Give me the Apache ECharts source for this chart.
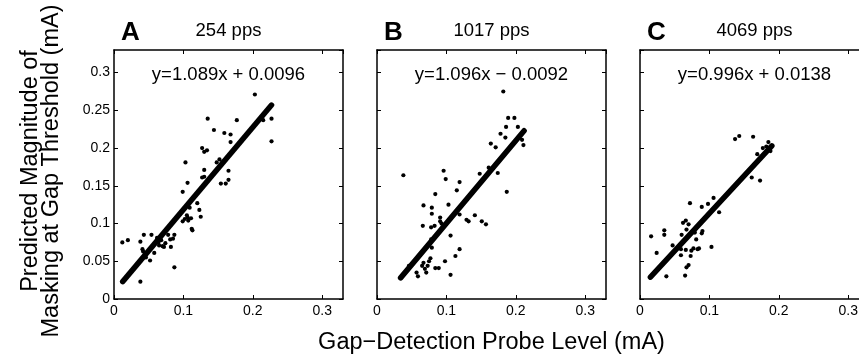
<!DOCTYPE html>
<html>
<head>
<meta charset="utf-8">
<script src="https://cdn.jsdelivr.net/npm/echarts@6/dist/echarts.min.js"></script>
<style>
html,body{margin:0;padding:0;background:#fff;}
#chart{width:859px;height:357px;}
</style>
</head>
<body>
<div id="chart"></div>
<script>
// ---- data ----
const panelLetters = ['A', 'B', 'C'];
const panelRates = ['254 pps', '1017 pps', '4069 pps'];
const equations = ['y=1.089x + 0.0096', 'y=1.096x \u2212 0.0092', 'y=0.996x + 0.0138'];
const xTickLabels = ['0', '0.1', '0.2', '0.3'];
const yTickLabels = ['0', '0.05', '0.1', '0.15', '0.2', '0.25', '0.3'];
const xAxisTitle = 'Gap\u2212Detection Probe Level (mA)';
const yAxisTitle1 = 'Predicted Magnitude of';
const yAxisTitle2 = 'Masking at Gap Threshold (mA)';

const aX = [0.012,0.020,0.038,0.043,0.041,0.042,0.046,0.052,0.054,0.058,0.062,0.064,0.065,0.068,0.070,0.072,0.074,0.078,0.081,0.082,0.085,0.087,0.087,0.038,0.099,0.103,0.106,0.099,0.102,0.105,0.106,0.107,0.109,0.111,0.112,0.113,0.120,0.123,0.125,0.127,0.130,0.127,0.130,0.134,0.130,0.135,0.144,0.148,0.152,0.156,0.159,0.154,0.159,0.161,0.165,0.165,0.168,0.168,0.177,0.203,0.215,0.227,0.227];
const aY = [0.075,0.078,0.076,0.085,0.066,0.063,0.055,0.051,0.085,0.061,0.081,0.075,0.071,0.078,0.070,0.069,0.074,0.085,0.079,0.069,0.080,0.085,0.042,0.023,0.142,0.181,0.154,0.103,0.106,0.111,0.108,0.104,0.121,0.107,0.093,0.091,0.127,0.118,0.109,0.161,0.162,0.200,0.195,0.197,0.171,0.239,0.224,0.181,0.185,0.181,0.183,0.153,0.220,0.153,0.158,0.170,0.218,0.208,0.237,0.271,0.237,0.239,0.209];

const bX = [0.038,0.096,0.099,0.119,0.115,0.084,0.103,0.067,0.079,0.079,0.066,0.078,0.083,0.091,0.091,0.093,0.119,0.129,0.132,0.141,0.151,0.157,0.148,0.161,0.174,0.164,0.171,0.187,0.178,0.186,0.189,0.198,0.203,0.185,0.182,0.209,0.211,0.106,0.079,0.119,0.113,0.106,0.077,0.075,0.067,0.065,0.069,0.071,0.057,0.059,0.084,0.089,0.098,0.046,0.073,0.078];
const bY = [0.164,0.170,0.159,0.155,0.144,0.139,0.125,0.124,0.121,0.113,0.097,0.095,0.097,0.108,0.103,0.100,0.112,0.105,0.103,0.111,0.103,0.099,0.166,0.174,0.167,0.206,0.201,0.142,0.219,0.228,0.240,0.240,0.228,0.214,0.275,0.211,0.204,0.084,0.068,0.066,0.057,0.032,0.054,0.050,0.048,0.044,0.040,0.035,0.035,0.030,0.041,0.041,0.050,0.044,0.044,0.079];

const cX = [0.016,0.024,0.035,0.035,0.038,0.047,0.059,0.059,0.060,0.062,0.066,0.070,0.067,0.072,0.065,0.067,0.070,0.066,0.074,0.077,0.073,0.081,0.083,0.085,0.089,0.090,0.089,0.098,0.106,0.114,0.103,0.079,0.137,0.143,0.163,0.161,0.173,0.169,0.177,0.185,0.188,0.182];
const cY = [0.083,0.061,0.091,0.085,0.030,0.071,0.066,0.058,0.085,0.101,0.104,0.099,0.092,0.127,0.031,0.042,0.045,0.065,0.064,0.067,0.057,0.079,0.066,0.067,0.087,0.090,0.122,0.126,0.134,0.115,0.069,0.088,0.212,0.216,0.215,0.161,0.157,0.192,0.200,0.208,0.196,0.202];

// fitted line end points
const fitAX = [0.0125, 0.227], fitAY = [0.023, 0.257];
const fitBX = [0.034, 0.212], fitBY = [0.028, 0.223];
const fitCX = [0.015, 0.190], fitCY = [0.029, 0.203];

// ---- chart ----
const FONT = '"Liberation Sans", Arial, Helvetica, sans-serif';
const gridLefts = [114, 377, 640];
const gridTop = 50, gridW = 229, gridH = 249;
const AX_MAX = 0.33;

function fmt(list) {
  return function (v) {
    const s = String(parseFloat(Number(v).toFixed(4)));
    return list.indexOf(s) >= 0 ? s : '';
  };
}
const lineStyle = { color: '#000', width: 1.5 };
const tickStyle = { inside: true, length: 4, lineStyle: { color: '#000', width: 1 } };

const grids = gridLefts.map(l => ({ left: l, top: gridTop, width: gridW, height: gridH, containLabel: false, outerBoundsMode: 'none' }));
const xAxes = [], yAxes = [];
for (let i = 0; i < 3; i++) {
  xAxes.push({
    type: 'value', gridIndex: i, min: 0, max: AX_MAX, interval: 0.1, position: 'bottom',
    axisLine: { show: true, onZero: false, lineStyle: lineStyle },
    axisTick: tickStyle,
    axisLabel: { show: true, margin: 5, color: '#000', fontSize: 14, fontFamily: FONT, formatter: fmt(xTickLabels), showMaxLabel: false },
    splitLine: { show: false }
  });
}
for (let i = 0; i < 3; i++) {
  xAxes.push({
    type: 'value', gridIndex: i, min: 0, max: AX_MAX, interval: 0.1, position: 'top',
    axisLine: { show: true, onZero: false, lineStyle: lineStyle },
    axisTick: tickStyle, axisLabel: { show: false }, splitLine: { show: false }
  });
}
for (let i = 0; i < 3; i++) {
  yAxes.push({
    type: 'value', gridIndex: i, min: 0, max: AX_MAX, interval: 0.05, position: 'left',
    axisLine: { show: true, onZero: false, lineStyle: lineStyle },
    axisTick: tickStyle,
    axisLabel: { show: i === 0, margin: 4, color: '#000', fontSize: 14, fontFamily: FONT, formatter: fmt(yTickLabels), showMaxLabel: false },
    splitLine: { show: false }
  });
}
for (let i = 0; i < 3; i++) {
  yAxes.push({
    type: 'value', gridIndex: i, min: 0, max: AX_MAX, interval: 0.05, position: 'right',
    axisLine: { show: true, onZero: false, lineStyle: lineStyle },
    axisTick: tickStyle, axisLabel: { show: false }, splitLine: { show: false }
  });
}

const scatterSets = [[aX, aY], [bX, bY], [cX, cY]];
const fitSets = [[fitAX, fitAY], [fitBX, fitBY], [fitCX, fitCY]];
const series = [];
for (let i = 0; i < 3; i++) {
  const xs = scatterSets[i][0], ys = scatterSets[i][1];
  series.push({
    type: 'scatter', xAxisIndex: i, yAxisIndex: i, symbol: 'circle', symbolSize: 4.2,
    itemStyle: { color: '#000', opacity: 1 }, silent: true, z: 2,
    data: xs.map((x, k) => [x, ys[k]])
  });
  const fx = fitSets[i][0], fy = fitSets[i][1];
  series.push({
    type: 'line', xAxisIndex: i, yAxisIndex: i, showSymbol: false, silent: true, z: 3,
    lineStyle: { color: '#000', width: 5.5, cap: 'round' },
    data: fx.map((x, k) => [x, fy[k]])
  });
}

const graphics = [];
for (let i = 0; i < 3; i++) {
  const cx = gridLefts[i] + gridW / 2;
  graphics.push({ type: 'text', style: { x: gridLefts[i] + 7, y: 33, text: panelLetters[i], font: 'bold 26px ' + FONT, fill: '#000', textAlign: 'left', textVerticalAlign: 'middle' } });
  graphics.push({ type: 'text', style: { x: cx, y: 31, text: panelRates[i], font: '18.5px ' + FONT, fill: '#000', textAlign: 'center', textVerticalAlign: 'middle' } });
  graphics.push({ type: 'text', style: { x: cx, y: 75, text: equations[i], font: '18.5px ' + FONT, fill: '#000', textAlign: 'center', textVerticalAlign: 'middle' } });
}
graphics.push({ type: 'text', style: { x: 491.5, y: 343, text: xAxisTitle, font: '23.5px ' + FONT, fill: '#000', textAlign: 'center', textVerticalAlign: 'middle' } });
graphics.push({ type: 'text', x: 31, y: 171, rotation: Math.PI / 2, style: { x: 0, y: 0, text: yAxisTitle1, font: '23.5px ' + FONT, fill: '#000', textAlign: 'center', textVerticalAlign: 'middle' } });
graphics.push({ type: 'text', x: 52, y: 171, rotation: Math.PI / 2, style: { x: 0, y: 0, text: yAxisTitle2, font: '23.5px ' + FONT, fill: '#000', textAlign: 'center', textVerticalAlign: 'middle' } });

const chart = echarts.init(document.getElementById('chart'), null, { renderer: 'canvas' });
chart.setOption({
  animation: false,
  backgroundColor: '#fff',
  grid: grids,
  xAxis: xAxes,
  yAxis: yAxes,
  series: series,
  graphic: { elements: graphics }
});
</script>
</body>
</html>
